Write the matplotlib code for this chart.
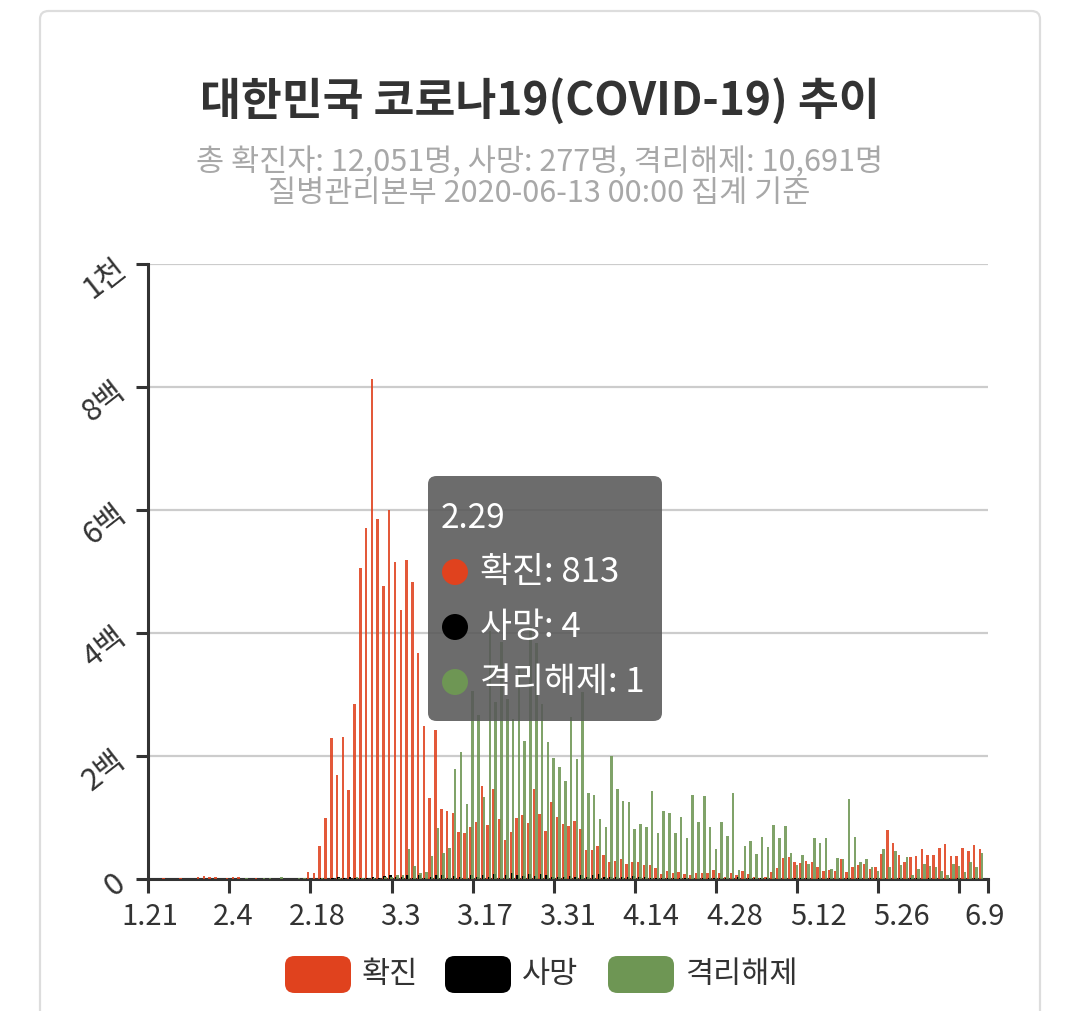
import matplotlib.pyplot as plt
import matplotlib.patches as patches
import numpy as np
import pandas as pd

plt.rcParams['font.family'] = ['Noto Sans CJK KR', 'DejaVu Sans']

# daily values, 1.21 ~ 6.13
days = pd.date_range('2020-01-21', '2020-06-13')
dates = [f'{d.month}.{d.day}' for d in days]

names = ['확진', '사망', '격리해제']
colors = ['#e0421e', '#000000', '#6e9654']

confirmed = (
    [0, 0, 0, 1, 0, 0, 2, 0, 0, 3, 5]
    + [3, 3, 0, 1, 3, 4, 0, 0, 2, 0, 0, 0, 0, 0, 0, 0, 0, 11, 9, 53,
       100, 229, 169, 231, 144, 284, 505, 571, 813]
    + [586, 476, 600, 516, 438, 518, 483, 367, 248, 131, 242, 114, 110, 107, 76,
       74, 84, 93, 152, 87, 147, 98, 64, 76, 100, 104, 91, 146, 105, 78, 125]
    + [101, 89, 86, 94, 81, 47, 47, 53, 39, 27, 30, 32, 25, 27, 27,
       22, 22, 18, 8, 13, 9, 11, 8, 6, 10, 10, 10, 14, 9, 4]
    + [9, 6, 13, 8, 3, 2, 4, 12, 18, 34, 35, 27, 26, 29, 27, 19,
       13, 15, 13, 32, 12, 20, 23, 25, 16, 19, 40, 79, 58, 39, 27]
    + [35, 38, 49, 39, 39, 51, 57, 38, 38, 50, 45, 56, 48]
)
deaths = (
    [0] * 11
    + [0] * 19 + [1, 0, 1, 3, 2, 3, 1, 1, 1, 4]
    + [1, 5, 6, 4, 3, 7, 2, 6, 1, 3, 6, 6, 1, 5, 3, 0, 6, 3, 7, 3,
       8, 2, 7, 9, 6, 5, 8, 5, 8, 6, 4]
    + [3, 4, 5, 3, 6, 3, 6, 8, 4, 4, 3, 3, 3, 5, 3, 4, 1, 2, 2, 2,
       1, 1, 2, 0, 0, 2, 1, 1, 2, 1]
    + [0, 3, 0, 2, 2, 1, 1, 0, 0, 0, 0, 2, 1, 1, 0, 2, 0, 1, 0, 0,
       1, 0, 2, 0, 1, 2, 0, 0, 0, 1, 0]
    + [1, 1, 0, 1, 0, 0, 0, 0, 2, 0, 0, 1, 0]
)
released = (
    [0] * 11
    + [0, 0, 0, 0, 0, 0, 1, 0, 0, 2, 1, 0, 3, 0, 0, 2, 2, 0, 0, 2,
       0, 0, 1, 0, 0, 4, 2, 0, 1]
    + [0, 3, 4, 7, 7, 49, 21, 10, 12, 37, 83, 42, 51, 179, 206, 122, 306, 266,
       133, 403, 288, 385, 293, 260, 341, 225, 410, 384, 284, 223, 196]
    + [182, 160, 263, 195, 304, 140, 136, 97, 84, 200, 146, 127, 126, 81, 89,
       84, 143, 75, 110, 107, 75, 101, 66, 136, 93, 135, 84, 49, 92, 70]
    + [140, 15, 53, 62, 40, 68, 52, 88, 67, 86, 42, 22, 39, 24, 67, 59,
       67, 16, 34, 32, 130, 69, 27, 32, 19, 13, 49, 20, 45, 23, 35]
    + [7, 17, 24, 21, 19, 13, 7, 25, 21, 12, 28, 19, 43]
)
series = [confirmed, deaths, released]

tick_labels = ['1.21', '2.4', '2.18', '3.3', '3.17', '3.31', '4.14', '4.28', '5.12', '5.26', '6.9']
y_ticks = [0, 200, 400, 600, 800, 1000]
y_labels = ['0', '2백', '4백', '6백', '8백', '1천']
hover = '2.29'

W, H = 1079, 1012
fig = plt.figure(figsize=(W / 100, H / 100), dpi=100)

# card outline
fig.add_artist(patches.FancyBboxPatch((40 / W, -0.05), 1000 / W, 1.05 - 12 / H,
                                      boxstyle='round,pad=0,rounding_size=0.008',
                                      transform=fig.transFigure, fill=False,
                                      edgecolor='#dddddd', lw=1.6))

fig.text(0.5, 1 - 101 / H, '대한민국 코로나19(COVID-19) 추이', ha='center', va='center',
         fontsize=32, fontweight='bold', color='#333333')
fig.text(0.5, 1 - 163 / H, '총 확진자: 12,051명, 사망: 277명, 격리해제: 10,691명',
         ha='center', va='center', fontsize=22, color='#a8a8a8')
fig.text(0.5, 1 - 193 / H, '질병관리본부 2020-06-13 00:00 집계 기준',
         ha='center', va='center', fontsize=22, color='#a8a8a8')

ax = fig.add_axes([148.3 / W, 1 - 880 / H, (988 - 148.3) / W, (880 - 265) / H])
x = np.arange(len(dates))
offsets = [-0.4, -0.2, 0.0]
for vals, off, c in zip(series, offsets, colors):
    ax.bar(x + off, vals, width=0.44, color=c, alpha=0.88 if c != '#000000' else 1,
           zorder=3, linewidth=0)

ax.set_xlim(0, len(dates))
ax.set_ylim(0, 1000)
ax.set_yticks(y_ticks)
ax.set_yticklabels(y_labels, rotation=38, fontsize=22, color='#333333')
ax.yaxis.grid(True, color='#cccccc', lw=1.6)
ax.set_axisbelow(True)
for s in ['top', 'right']:
    ax.spines[s].set_visible(False)
for s in ['left', 'bottom']:
    ax.spines[s].set_color('#333333')
    ax.spines[s].set_linewidth(2.2)
ax.tick_params(axis='y', length=9, width=2.2, color='#333333', pad=3)

ax.set_xticks(list(range(0, len(dates), 14)) + [len(dates)])
ax.set_xticklabels([])
ax.set_xticks(np.linspace(0.3, 144.5, len(tick_labels)), minor=True)
ax.set_xticklabels(tick_labels, minor=True, fontsize=21, color='#333333')
ax.tick_params(axis='x', which='major', length=10, width=2.2, color='#333333')
ax.tick_params(axis='x', which='minor', length=0, pad=16)

# tooltip
k = dates.index(hover)
fig.add_artist(patches.FancyBboxPatch((428 / W, 1 - 722 / H), 234 / W, 245 / H,
                                      boxstyle='round,pad=0,rounding_size=0.008',
                                      transform=fig.transFigure, facecolor='#585858',
                                      edgecolor='none', alpha=0.88))
fig.text(441 / W, 1 - 518 / H, hover, color='white', fontsize=24, va='center')
for j, (nm, vals, c) in enumerate(zip(names, series, colors)):
    yy = 1 - (573 + 55 * j) / H
    fig.add_artist(patches.Ellipse((455 / W, yy), 26 / W, 26 / H, transform=fig.transFigure,
                                   facecolor=c, edgecolor='none'))
    fig.text(480 / W, yy, f'{nm}: {vals[k]}', color='white', fontsize=25, va='center')

# legend
lx = [285, 445, 608]
for nm, c, x0 in zip(names, colors, lx):
    fig.add_artist(patches.FancyBboxPatch((x0 / W, 1 - 994 / H), 66 / W, 37 / H,
                                          boxstyle='round,pad=0,rounding_size=0.009',
                                          transform=fig.transFigure, facecolor=c, edgecolor='none'))
    fig.text((x0 + 77) / W, 1 - 975 / H, nm, fontsize=22, va='center', color='#333333')

fig.savefig('out.png', dpi=100)
